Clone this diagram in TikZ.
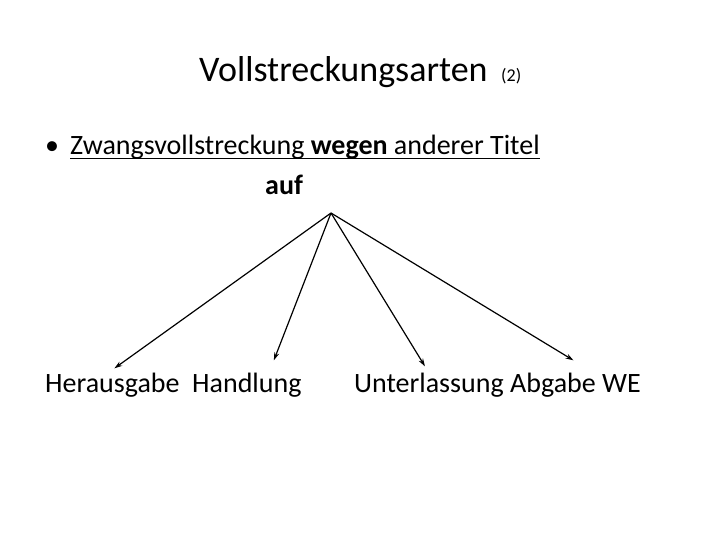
\documentclass[tikz,border=0pt]{standalone}
\usepackage{fontspec}
\setmainfont{Carlito}
\usetikzlibrary{arrows.meta, positioning}

\tikzset{
  slidetext/.style={anchor=base west, inner sep=0pt, font=\fontsize{28}{32}\selectfont},
  branch/.style={-{Stealth[length=8pt, width=5pt]}, line width=1.2pt},
}

\begin{document}
\begin{tikzpicture}[x=1pt, y=-1pt]
  \useasboundingbox (0,0) rectangle (720,540);
  % Title
  \node[slidetext, font=\fontsize{36}{42}\selectfont] (title) at (199,82) {Vollstreckungsarten};
  \node[slidetext, font=\fontsize{18}{20}\selectfont] (num) at (501,82) {(2)};
  % Bullet line
  \node[slidetext] (bullet) at (45,155) {\textbullet};
  \node[slidetext] (zv) at (70,155) {Zwangsvollstreckung \textbf{wegen} anderer Titel};
  \draw[line width=1.4pt] ([yshift=-3.5pt]zv.base west) -- ([yshift=-3.5pt]zv.base east);
  \node[slidetext] (auf) at (265,195) {\textbf{auf}};
  \coordinate (root) at (331,213);
  % Targets
  \node[slidetext] (heraus) at (45,392) {Herausgabe};
  \node[slidetext] (handl) at (192,392) {Handlung};
  \node[slidetext] (unter) at (354,392) {Unterlassung};
  \node[slidetext] (abgabe) at (510,392) {Abgabe WE};
  % Arrows
  \draw[branch] (root) -- ([xshift=2pt, yshift=4pt]heraus.north);
  \draw[branch] (root) -- ([xshift=27pt, yshift=12pt]handl.north);
  \draw[branch] (root) -- ([xshift=-4pt, yshift=6pt]unter.north);
  \draw[branch] (root) -- ([xshift=-2pt, yshift=12pt]abgabe.north);
\end{tikzpicture}
\end{document}
